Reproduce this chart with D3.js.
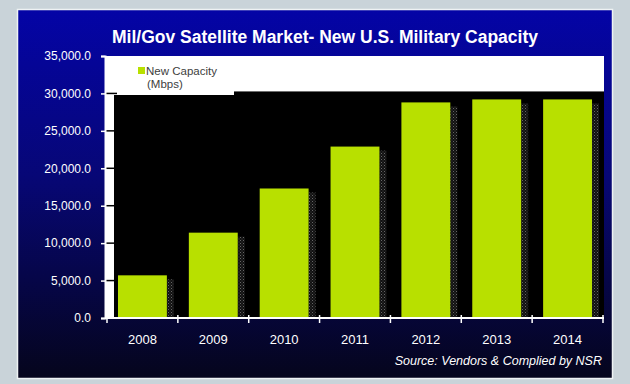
<!DOCTYPE html>
<html>
<head>
<meta charset="utf-8">
<script src="https://cdn.jsdelivr.net/npm/d3@7"></script>
<style>
  html, body { margin: 0; padding: 0; background: #c9d3d9; }
  svg { display: block; font-family: Arial, "Liberation Sans", sans-serif; }
</style>
</head>
<body>
<svg id="chart" width="630" height="384"></svg>
<script>
// New U.S. military satellite capacity, Mbps
const years = ["2008", "2009", "2010", "2011", "2012", "2013", "2014"];
const capacity = [5700, 11400, 17300, 22900, 28800, 29200, 29200];
const yTicks = [0, 5000, 10000, 15000, 20000, 25000, 30000, 35000];
const titleText = "Mil/Gov Satellite Market- New U.S. Military Capacity";
const legendLines = ["New Capacity", "(Mbps)"];
const sourceText = "Source: Vendors & Complied by NSR";

const svg = d3.select("#chart");
const barColor = "#b8e000";

const defs = svg.append("defs");
const grad = defs.append("linearGradient")
  .attr("id", "panelGrad").attr("x1", 0).attr("y1", 0).attr("x2", 0).attr("y2", 1);
grad.append("stop").attr("offset", "0%").attr("stop-color", "#0404a6");
grad.append("stop").attr("offset", "45%").attr("stop-color", "#070776");
grad.append("stop").attr("offset", "100%").attr("stop-color", "#05051c");

// dotted shadow beside each bar
const pat = defs.append("pattern")
  .attr("id", "dots").attr("width", 3).attr("height", 3)
  .attr("patternUnits", "userSpaceOnUse");
pat.append("rect").attr("width", 3).attr("height", 3).attr("fill", "#111");
pat.append("rect").attr("x", 0).attr("y", 0).attr("width", 1).attr("height", 1).attr("fill", "#666");
pat.append("rect").attr("x", 1.5).attr("y", 1.5).attr("width", 1).attr("height", 1).attr("fill", "#444");

// panel
svg.append("rect")
  .attr("x", 17.5).attr("y", 9.5).attr("width", 595).attr("height", 369)
  .attr("fill", "url(#panelGrad)")
  .attr("stroke", "#eef2f4").attr("stroke-width", 1.5);

// scales
const x = d3.scaleBand().domain(years).range([107, 603])
  .paddingInner(0.31).paddingOuter(0.155);
const y = d3.scaleLinear().domain([0, 35000]).range([318, 56]);

const plotLeft = 105, plotRight = 604;
const depth = 9;

// plot area: white side wall and top, black back wall
svg.append("rect")
  .attr("x", plotLeft).attr("y", y(35000))
  .attr("width", plotRight - plotLeft).attr("height", y(0) - y(35000))
  .attr("fill", "#ffffff");
svg.append("rect")
  .attr("x", plotLeft + depth).attr("y", y(30000) - 2)
  .attr("width", plotRight - plotLeft - depth).attr("height", y(0) - y(30000) + 2)
  .attr("fill", "#000000");

// legend box
const legend = svg.append("g");
legend.append("rect")
  .attr("x", plotLeft).attr("y", y(35000))
  .attr("width", 129).attr("height", 39)
  .attr("fill", "#ffffff");
legend.append("rect")
  .attr("x", 138).attr("y", 67).attr("width", 7).attr("height", 7)
  .attr("fill", barColor);
legend.selectAll("text.leg").data(legendLines).enter().append("text")
  .attr("class", "leg")
  .attr("x", (d, i) => i === 0 ? 146 : 147)
  .attr("y", (d, i) => 75 + i * 13)
  .attr("font-size", 11.5).attr("fill", "#404040")
  .text(d => d);

// inner tick marks on the side wall
svg.append("g").selectAll("line").data(yTicks.slice(1, -1)).enter().append("line")
  .attr("x1", plotLeft).attr("x2", plotLeft + depth + 3)
  .attr("y1", d => y(d)).attr("y2", d => y(d))
  .attr("stroke", "#000").attr("stroke-width", 1.5);

// bar shadows
svg.append("g").selectAll("rect").data(capacity).enter().append("rect")
  .attr("x", (d, i) => x(years[i]) + x.bandwidth())
  .attr("y", d => y(d) + 4)
  .attr("width", 7)
  .attr("height", d => y(0) - y(d) - 4)
  .attr("fill", "url(#dots)");

// bars
svg.append("g").selectAll("rect").data(capacity).enter().append("rect")
  .attr("x", (d, i) => x(years[i]))
  .attr("y", d => y(d))
  .attr("width", x.bandwidth())
  .attr("height", d => y(0) - y(d))
  .attr("fill", barColor);

// y axis
const yAxis = svg.append("g")
  .attr("transform", `translate(${plotLeft},0)`)
  .call(d3.axisLeft(y).tickValues(yTicks).tickFormat(d3.format(",.1f")).tickSize(4).tickPadding(10));
yAxis.select(".domain").attr("stroke", "#ffffff").attr("stroke-width", 2);
yAxis.selectAll(".tick line").attr("stroke", "#ffffff").attr("stroke-width", 1.5);
yAxis.selectAll(".tick text").attr("fill", "#ffffff").attr("font-size", 12)
  .attr("font-family", "Arial, 'Liberation Sans', sans-serif");

// x axis line with ticks at category boundaries
const half = (x.step() - x.bandwidth()) / 2;
const bounds = years.map(yr => x(yr) - half).concat([x(years[years.length - 1]) + x.bandwidth() + half]);
svg.append("line")
  .attr("x1", plotLeft).attr("x2", bounds[bounds.length - 1] + 1)
  .attr("y1", y(0)).attr("y2", y(0))
  .attr("stroke", "#ffffff").attr("stroke-width", 2);
svg.append("g").selectAll("line").data(bounds).enter().append("line")
  .attr("x1", d => d).attr("x2", d => d)
  .attr("y1", y(0) - 3).attr("y2", y(0) + 5)
  .attr("stroke", "#ffffff").attr("stroke-width", 1.5);

svg.append("g").selectAll("text").data(years).enter().append("text")
  .attr("x", d => x(d) + x.bandwidth() / 2)
  .attr("y", 344)
  .attr("text-anchor", "middle")
  .attr("font-size", 13).attr("fill", "#ffffff")
  .text(d => d);

// title
svg.append("text")
  .attr("x", 325).attr("y", 43)
  .attr("text-anchor", "middle")
  .attr("font-size", 17.5).attr("font-weight", "bold").attr("fill", "#ffffff")
  .text(titleText);

// source note
svg.append("text")
  .attr("x", 602).attr("y", 365)
  .attr("text-anchor", "end")
  .attr("font-size", 12.5).attr("font-style", "italic").attr("fill", "#ffffff")
  .text(sourceText);
</script>
</body>
</html>
